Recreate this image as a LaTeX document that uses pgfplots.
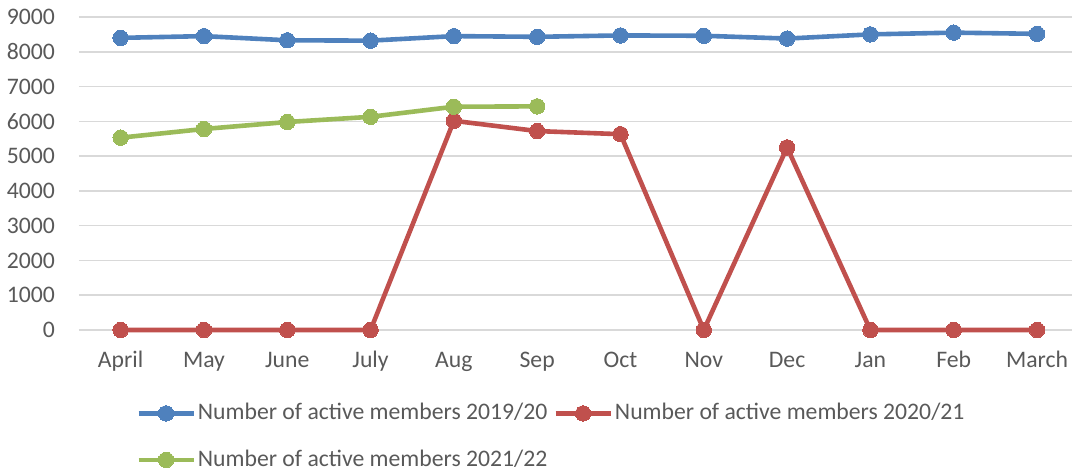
\documentclass[border=0pt]{standalone}
\usepackage{fontspec}
\setmainfont{Carlito}
\usepackage{pgfplots}
\pgfplotsset{compat=1.18}
\definecolor{cblue}{HTML}{4F81BD}
\definecolor{cred}{HTML}{C0504D}
\definecolor{cgreen}{HTML}{9BBB59}
\definecolor{cgrid}{HTML}{D9D9D9}
\definecolor{ctext}{HTML}{595959}
\begin{document}
\begin{tikzpicture}
\begin{axis}[
  name=ax,
  scale only axis,
  width=993bp, height=313bp,
  xmin=-0.5, xmax=11.42,
  ymin=0, ymax=9000,
  ytick={0,1000,...,9000},
  xtick={0,...,11},
  xticklabels={April,May,June,July,Aug,Sep,Oct,Nov,Dec,Jan,Feb,March},
  axis line style={draw=none},
  major tick length=0pt,
  ymajorgrids,
  grid style={cgrid, line width=1.5bp},
  clip=false,
  /pgf/number format/assume math mode=true,
  /pgf/number format/set thousands separator={},
  tick label style={font=\fontsize{23.7bp}{28bp}\selectfont, text=ctext, inner sep=0pt},
  xticklabel style={anchor=base, yshift=-38bp},
  yticklabel style={anchor=east, xshift=-24bp},
  legend columns=2,
  legend cell align=left,
  legend style={
    at={(0.0575,-0.226)}, anchor=north west,
    draw=none, fill=none, inner sep=0pt,
    font=\fontsize{23.7bp}{28bp}\selectfont, text=ctext,
    nodes={text height=17bp, text depth=4bp, inner sep=2bp},
    row sep=21.5bp,
    /tikz/every even column/.append style={column sep=4bp},
  },
  legend image code/.code={
    \draw[mark repeat=2,mark phase=2,#1] plot coordinates {(0bp,0bp) (27.5bp,0bp) (55bp,0bp)};
  },
  every axis plot/.append style={line width=4.6bp, mark=*, mark size=7.7bp},
]
\addplot[cblue, mark options={fill=cblue, draw=cblue, line width=0pt}] coordinates {
  (0,8400) (1,8450) (2,8330) (3,8320) (4,8450) (5,8430)
  (6,8470) (7,8460) (8,8380) (9,8500) (10,8550) (11,8515)};
\addlegendentry{Number of active members 2019/20}
\addplot[cred, mark options={fill=cred, draw=cred, line width=0pt}] coordinates {
  (0,0) (1,0) (2,0) (3,0) (4,6015) (5,5720)
  (6,5630) (7,0) (8,5250) (9,0) (10,0) (11,0)};
\addlegendentry{Number of active members 2020/21}
\addplot[cgreen, mark options={fill=cgreen, draw=cgreen, line width=0pt}] coordinates {
  (0,5530) (1,5780) (2,5980) (3,6130) (4,6420) (5,6430)};
\addlegendentry{Number of active members 2021/22}
\end{axis}
\pgfresetboundingbox
\path[use as bounding box] ([xshift=-79bp,yshift=-142bp]ax.south west) rectangle ([yshift=17bp]ax.north east);
\end{tikzpicture}
\end{document}
